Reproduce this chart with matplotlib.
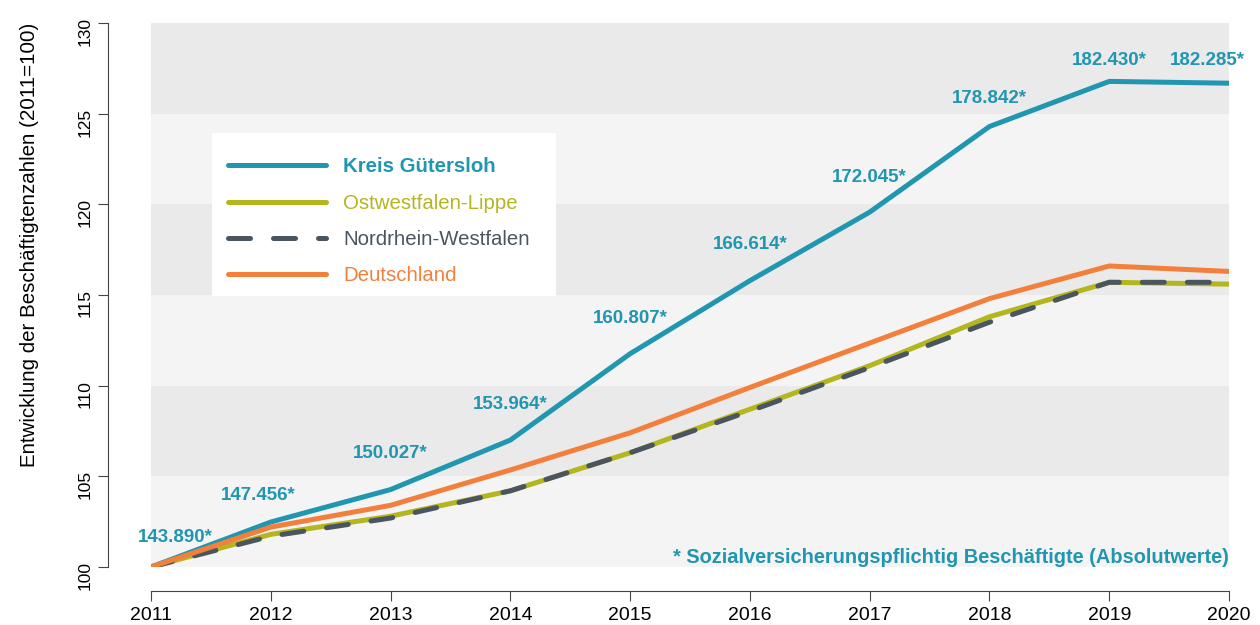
import numpy as np
import matplotlib.pyplot as plt
from matplotlib.patches import Rectangle

plt.rcParams['font.family'] = ['Liberation Sans', 'DejaVu Sans']

years = [2011, 2012, 2013, 2014, 2015, 2016, 2017, 2018, 2019, 2020]
guetersloh = [100.0, 102.48, 104.27, 107.00, 111.76, 115.79, 119.57, 124.29, 126.78, 126.68]
owl = [100.0, 101.8, 102.8, 104.2, 106.3, 108.7, 111.1, 113.8, 115.7, 115.6]
nrw = [100.0, 101.7, 102.7, 104.2, 106.3, 108.6, 111.0, 113.5, 115.7, 115.7]
deutschland = [100.0, 102.2, 103.4, 105.35, 107.4, 109.9, 112.35, 114.8, 116.6, 116.3]
absolut = ['143.890*', '147.456*', '150.027*', '153.964*', '160.807*',
           '166.614*', '172.045*', '178.842*', '182.430*', '182.285*']

blue = '#2196b0'
olive = '#b3b61e'
grey = '#4a5560'
orange = '#f2803c'

W, H = 1260, 625
fig = plt.figure(figsize=(12.6, 6.25), dpi=100)
ax = fig.add_axes([151/W, 58/H, 1078/W, 544/H])

# background bands
for i, lo in enumerate(range(100, 130, 5)):
    ax.axhspan(lo, lo + 5, color='#f4f4f4' if i % 2 == 0 else '#eaeaea', lw=0, zorder=0)

lw = 3.6
ax.plot(years, guetersloh, color=blue, lw=lw, solid_capstyle='round', label='Kreis Gütersloh', zorder=3)
ax.plot(years, owl, color=olive, lw=lw, solid_capstyle='round', label='Ostwestfalen-Lippe', zorder=3)
ax.plot(years, nrw, color=grey, lw=lw, dashes=(4.4, 4.6), dash_capstyle='round',
        label='Nordrhein-Westfalen', zorder=4)
ax.plot(years, deutschland, color=orange, lw=lw, solid_capstyle='round', label='Deutschland', zorder=5)

# labels with absolute values (offsets in px)
offs = [(24, 30), (-13, 27), (0, 36), (0, 36), (0, 35), (0, 36), (0, 35), (0, 28), (0, 21), (-22, 23)]
for x, y, t, (dx, dy) in zip(years, guetersloh, absolut, offs):
    ax.annotate(t, (x, y), xytext=(dx * 0.72, dy * 0.72), textcoords='offset points',
                ha='center', va='center', color=blue, fontsize=13.5, fontweight='bold', zorder=6)

ax.text(2020, 100.55, '* Sozialversicherungspflichtig Beschäftigte (Absolutwerte)',
        ha='right', va='center', color=blue, fontsize=14.4, fontweight='bold')

ax.set_xlim(2011, 2020)
ax.set_ylim(100, 130)
ax.set_xticks(years)
ax.set_yticks(range(100, 131, 5))
ax.tick_params(axis='y', labelrotation=90, labelsize=12.5, length=7, color='#444444', pad=4)
ax.tick_params(axis='x', labelsize=14, length=7, color='#444444', pad=4)
for lab in ax.get_yticklabels():
    lab.set_va('center')
for s in ['top', 'right']:
    ax.spines[s].set_visible(False)
ax.spines['left'].set_position(('outward', 31))
ax.spines['bottom'].set_position(('outward', 17.5))
ax.spines['left'].set_bounds(100, 130)
ax.spines['bottom'].set_bounds(2011, 2020)
ax.spines['left'].set_color('#444444')
ax.spines['bottom'].set_color('#444444')
ax.set_ylabel('Entwicklung der Beschäftigtenzahlen (2011=100)', fontsize=14.8)
ax.yaxis.set_label_coords((39 - 151) / 1078, (H - 245 - 58) / 544)

# legend box
ax.add_patch(Rectangle((212/W, 1 - 296/H), 344/W, 163/H, transform=fig.transFigure,
                       facecolor='white', edgecolor='none', zorder=1))
leg = ax.legend(loc='upper left', bbox_to_anchor=(212/W, 1 - 141/H), bbox_transform=fig.transFigure,
                frameon=False, fontsize=14.7, handlelength=4.8, handletextpad=0.83, labelspacing=0.85,
                borderpad=0.8, borderaxespad=0,
                labelcolor=[blue, olive, grey, orange])
leg.get_texts()[0].set_fontweight('bold')
leg.set_zorder(7)

fig.savefig('out.png', dpi=100)
